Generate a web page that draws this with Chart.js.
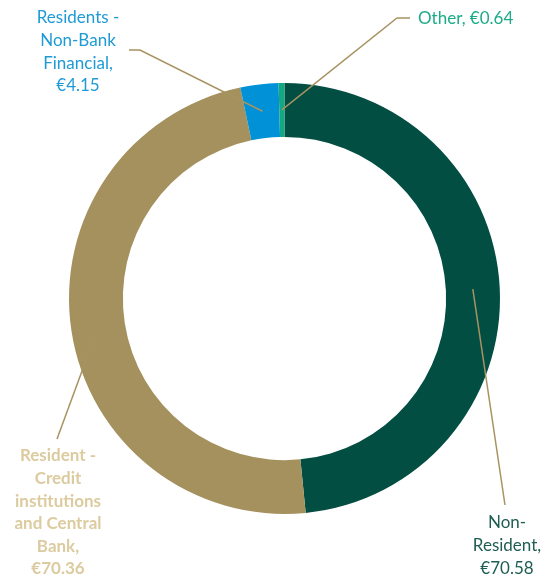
<!DOCTYPE html>
<html>
<head>
<meta charset="utf-8">
<script src="https://cdn.jsdelivr.net/npm/chart.js@4"></script>
<style>
  html, body { margin: 0; padding: 0; background: #fff; }
  #wrap { width: 548px; height: 578px; position: relative; }
</style>
</head>
<body>
<div id="wrap"><canvas id="myChart" width="548" height="578"></canvas></div>
<script>
// holders of the debt, € billions
const categories = ['Non-Resident', 'Resident - Credit institutions and Central Bank', 'Residents - Non-Bank Financial', 'Other']
const amounts = [70.58, 70.36, 4.15, 0.64]
const sliceColors = ['#024e42', '#a5915d', '#0091d6', '#14a782']

// how each label is broken into lines, its colour, weight and where it sits
const labelLines = [
  ['Non-', 'Resident,', '€' + amounts[0].toFixed(2)],
  ['Resident -', 'Credit', 'institutions', 'and Central', 'Bank,', '€' + amounts[1].toFixed(2)],
  ['Residents -', 'Non-Bank', 'Financial,', '€' + amounts[2].toFixed(2)],
  ['Other, €' + amounts[3].toFixed(2)]
]
const labelColors = ['#1f5e52', '#dccb9f', '#1e9bd7', '#1dac89']
const labelBold = [false, true, false, false]
// text x, first line y, alignment, then the bends of the leader line
const labelLayout = [
  { x: 507, y: 523, align: 'center', path: [[505, 505]] },
  { x: 58, y: 456, align: 'center', path: [[57, 439]] },
  { x: 78, y: 18, align: 'center', path: [[140, 50], [129, 50]] },
  { x: 418, y: 19, align: 'left', path: [[397, 18], [410, 18]] }
]

const leaderLabels = {
  id: 'leaderLabels',
  afterDatasetsDraw(chart) {
    const ctx = chart.ctx
    const arcs = chart.getDatasetMeta(0).data
    ctx.save()
    arcs.forEach((arc, i) => {
      const lay = labelLayout[i]
      const p = arc.tooltipPosition()
      ctx.strokeStyle = '#a79361'
      ctx.lineWidth = 1.5
      ctx.beginPath()
      ctx.moveTo(p.x, p.y)
      lay.path.forEach(pt => ctx.lineTo(pt[0], pt[1]))
      ctx.stroke()

      ctx.fillStyle = labelColors[i]
      ctx.font = (labelBold[i] ? 'bold ' : '') + '17px Lato'
      ctx.textAlign = lay.align
      ctx.textBaseline = 'middle'
      labelLines[i].forEach((line, k) => {
        ctx.fillText(line, lay.x, lay.y + k * 22.6)
      })
    })
    ctx.restore()
  }
}

function chartIt(){
  const ctx = document.getElementById('myChart')
  new Chart(ctx, {
    type: 'doughnut',
    data: {
      labels: categories,
      datasets: [{
        data: amounts,
        backgroundColor: sliceColors,
        borderWidth: 0
      }]
    },
    options: {
      responsive: false,
      animation: false,
      cutout: '75%',
      layout: { padding: { left: 69, right: 48, top: 83, bottom: 64 } },
      plugins: {
        legend: { display: false },
        tooltip: { enabled: false }
      }
    },
    plugins: [leaderLabels]
  })
}

chartIt()
</script>
</body>
</html>
